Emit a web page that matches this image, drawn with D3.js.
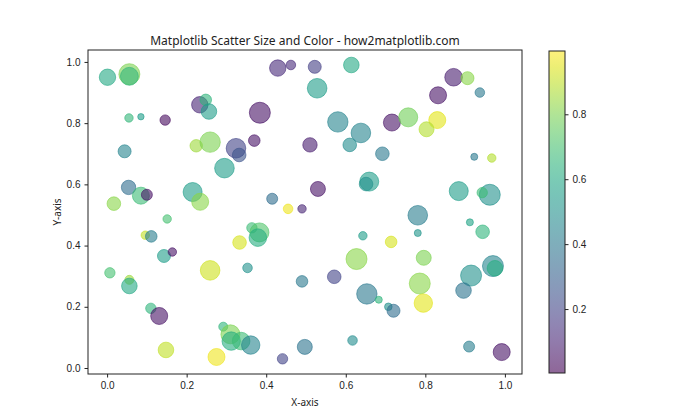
<!DOCTYPE html>
<html>
<head>
<meta charset="utf-8">
<script src="https://cdn.jsdelivr.net/npm/d3@7"></script>
<style>
  body { margin: 0; background: #fff; }
  svg { display: block; font-family: 'Noto Sans', 'Open Sans', sans-serif; }
  .tick text { font-size: 10px; fill: #222; }
  .tick line { stroke: #222; }
</style>
</head>
<body>
<script>
/*
 * Scatter plot where marker size and colour both carry a value,
 * coloured with viridis and a colorbar on the right.
 */

const WIDTH = 700;
const HEIGHT = 420;
const AX_LEFT = 88;
const AX_RIGHT = 522;
const AX_TOP = 50;
const AX_BOT = 374;
const CBAR_LEFT = 549;
const CBAR_RIGHT = 565;
const CBAR_TOP = 51;
const CBAR_BOT = 373;
const ALPHA = 0.6;
const DPI = 70;

// data
const xValues = [
  0.001, 0.056, 0.056, 0.055, 0.085, 0.146, 0.233, 0.248, 0.256, 0.044,
  0.224, 0.259, 0.295, 0.054, 0.085, 0.100, 0.017, 0.215, 0.234, 0.151,
  0.429, 0.462, 0.522, 0.614, 0.528, 0.384, 0.580, 0.638, 0.610, 0.370,
  0.510, 0.324, 0.332, 0.692, 0.659, 0.651, 0.530, 0.415, 0.455, 0.490,
  0.871, 0.906, 0.937, 0.832, 0.716, 0.757, 0.830, 0.803, 0.923, 0.967,
  0.884, 0.962, 0.943, 0.781, 0.096, 0.111, 0.333, 0.143, 0.164, 0.259,
  0.007, 0.056, 0.056, 0.110, 0.131, 0.148, 0.275, 0.292, 0.310, 0.312,
  0.364, 0.383, 0.379, 0.643, 0.627, 0.353, 0.490, 0.571, 0.653, 0.683,
  0.337, 0.361, 0.441, 0.497, 0.617, 0.781, 0.714, 0.796, 0.912, 0.944,
  0.786, 0.795, 0.915, 0.896, 0.970, 0.975, 0.707, 0.720, 0.910, 0.992
];
const yValues = [
  0.950, 0.960, 0.953, 0.817, 0.821, 0.810, 0.860, 0.876, 0.838, 0.708,
  0.726, 0.738, 0.653, 0.590, 0.563, 0.566, 0.537, 0.575, 0.543, 0.487,
  0.980, 0.990, 0.984, 0.990, 0.914, 0.834, 0.804, 0.768, 0.729, 0.743,
  0.729, 0.718, 0.696, 0.700, 0.609, 0.601, 0.585, 0.553, 0.520, 0.520,
  0.950, 0.947, 0.900, 0.891, 0.802, 0.819, 0.810, 0.780, 0.690, 0.686,
  0.578, 0.566, 0.573, 0.499, 0.434, 0.430, 0.410, 0.366, 0.379, 0.319,
  0.311, 0.288, 0.268, 0.195, 0.170, 0.059, 0.036, 0.135, 0.110, 0.088,
  0.458, 0.443, 0.426, 0.432, 0.356, 0.327, 0.283, 0.298, 0.242, 0.223,
  0.088, 0.075, 0.030, 0.069, 0.090, 0.441, 0.412, 0.360, 0.476, 0.445,
  0.276, 0.212, 0.302, 0.253, 0.333, 0.326, 0.200, 0.187, 0.070, 0.052
];
const colorValues = [
  0.60, 0.80, 0.66, 0.66, 0.55, 0.03, 0.10, 0.65, 0.55, 0.45,
  0.85, 0.80, 0.55, 0.35, 0.68, 0.05, 0.82, 0.55, 0.82, 0.70,
  0.12, 0.12, 0.18, 0.60, 0.55, 0.05, 0.45, 0.45, 0.48, 0.05,
  0.08, 0.20, 0.25, 0.40, 0.55, 0.50, 0.05, 0.35, 0.97, 0.10,
  0.08, 0.82, 0.40, 0.05, 0.05, 0.78, 0.95, 0.88, 0.40, 0.88,
  0.55, 0.50, 0.68, 0.42, 0.90, 0.42, 0.93, 0.55, 0.05, 0.92,
  0.70, 0.85, 0.60, 0.65, 0.05, 0.90, 0.97, 0.65, 0.80, 0.62,
  0.68, 0.72, 0.62, 0.55, 0.82, 0.50, 0.40, 0.20, 0.40, 0.65,
  0.68, 0.45, 0.20, 0.38, 0.48, 0.52, 0.93, 0.80, 0.58, 0.65,
  0.82, 0.95, 0.50, 0.38, 0.45, 0.62, 0.50, 0.35, 0.42, 0.05
];
// marker sizes in points^2, as matplotlib's s
const sizeValues = [
  284, 466, 340, 75, 43, 114, 284, 142, 257, 179,
  163, 440, 406, 219, 306, 128, 196, 382, 306, 75,
  284, 97, 179, 257, 406, 466, 440, 406, 196, 142,
  219, 406, 196, 196, 382, 196, 238, 128, 97, 75,
  328, 179, 97, 306, 306, 382, 306, 238, 52, 75,
  382, 466, 114, 406, 75, 142, 196, 179, 75, 406,
  114, 86, 257, 114, 306, 257, 306, 86, 382, 358,
  114, 382, 328, 75, 466, 97, 142, 196, 440, 52,
  328, 358, 114, 238, 97, 52, 142, 238, 52, 196,
  466, 358, 466, 257, 466, 257, 61, 179, 128, 306
];

const xTicks = [0.0, 0.2, 0.4, 0.6, 0.8, 1.0];
const yTicks = [0.0, 0.2, 0.4, 0.6, 0.8, 1.0];
const cTicks = [0.2, 0.4, 0.6, 0.8];
const COLOR_MIN = 0.003;
const COLOR_MAX = 0.995;

const TITLE = 'Matplotlib Scatter Size and Color - how2matplotlib.com';

const svg = d3.select('body')
  .append('svg')
    .attr('width', WIDTH)
    .attr('height', HEIGHT);

const xScale = d3.scaleLinear()
    .domain([-0.048, 1.043])
    .range([AX_LEFT, AX_RIGHT]);

const yScale = d3.scaleLinear()
    .domain([-0.0196, 1.039])
    .range([AX_BOT, AX_TOP]);

const colorScale = d3.scaleSequential(d3.interpolateViridis)
    .domain([COLOR_MIN, COLOR_MAX]);

// s is area in points^2 -> radius in pixels
const radius = s => Math.sqrt(s) / 2 * DPI / 72;

const points = xValues.map((x, i) => ({
  x, y: yValues[i], c: colorValues[i], s: sizeValues[i]
}));

// clip markers to the axes box
svg.append('clipPath')
    .attr('id', 'ax-clip')
  .append('rect')
    .attr('x', AX_LEFT)
    .attr('y', AX_TOP)
    .attr('width', AX_RIGHT - AX_LEFT)
    .attr('height', AX_BOT - AX_TOP);

svg.append('g')
    .attr('clip-path', 'url(#ax-clip)')
  .selectAll('circle')
  .data(points)
  .enter()
  .append('circle')
    .attr('cx', d => xScale(d.x))
    .attr('cy', d => yScale(d.y))
    .attr('r', d => radius(d.s))
    .attr('fill', d => colorScale(d.c))
    .attr('fill-opacity', ALPHA)
    .attr('stroke', d => colorScale(d.c))
    .attr('stroke-opacity', ALPHA)
    .attr('stroke-width', 1);

// axes
svg.append('g')
    .attr('transform', `translate(0, ${AX_BOT})`)
    .call(d3.axisBottom(xScale)
      .tickValues(xTicks)
      .tickFormat(d3.format('.1f'))
      .tickSize(3.5)
      .tickPadding(4))
    .call(g => g.select('.domain').remove());

svg.append('g')
    .attr('transform', `translate(${AX_LEFT}, 0)`)
    .call(d3.axisLeft(yScale)
      .tickValues(yTicks)
      .tickFormat(d3.format('.1f'))
      .tickSize(3.5)
      .tickPadding(4))
    .call(g => g.select('.domain').remove());

svg.append('rect')
    .attr('x', AX_LEFT)
    .attr('y', AX_TOP)
    .attr('width', AX_RIGHT - AX_LEFT)
    .attr('height', AX_BOT - AX_TOP)
    .attr('fill', 'none')
    .attr('stroke', '#222')
    .attr('stroke-width', 1);

// labels and title
svg.append('text')
    .attr('x', (AX_LEFT + AX_RIGHT) / 2)
    .attr('y', 406)
    .attr('text-anchor', 'middle')
    .attr('font-size', 10)
    .attr('fill', '#222')
    .text('X-axis');

svg.append('text')
    .attr('transform', `translate(61, ${(AX_TOP + AX_BOT) / 2}) rotate(-90)`)
    .attr('text-anchor', 'middle')
    .attr('font-size', 10)
    .attr('fill', '#222')
    .text('Y-axis');

svg.append('text')
    .attr('x', (AX_LEFT + AX_RIGHT) / 2)
    .attr('y', 45)
    .attr('text-anchor', 'middle')
    .attr('font-size', 12)
    .attr('fill', '#222')
    .text(TITLE);

// colorbar
const cScale = d3.scaleLinear()
    .domain([COLOR_MIN, COLOR_MAX])
    .range([CBAR_BOT, CBAR_TOP]);

const grad = svg.append('defs')
  .append('linearGradient')
    .attr('id', 'cbar-grad')
    .attr('x1', 0).attr('y1', 1)
    .attr('x2', 0).attr('y2', 0);

d3.range(0, 1.0001, 0.05).forEach(t => {
  grad.append('stop')
      .attr('offset', t)
      .attr('stop-color', d3.interpolateViridis(t));
});

svg.append('rect')
    .attr('x', CBAR_LEFT)
    .attr('y', CBAR_TOP)
    .attr('width', CBAR_RIGHT - CBAR_LEFT)
    .attr('height', CBAR_BOT - CBAR_TOP)
    .attr('fill', 'url(#cbar-grad)')
    .attr('fill-opacity', ALPHA);

svg.append('g')
    .attr('transform', `translate(${CBAR_RIGHT}, 0)`)
    .call(d3.axisRight(cScale)
      .tickValues(cTicks)
      .tickFormat(d3.format('.1f'))
      .tickSize(3.5)
      .tickPadding(4))
    .call(g => g.select('.domain').remove());

svg.append('rect')
    .attr('x', CBAR_LEFT)
    .attr('y', CBAR_TOP)
    .attr('width', CBAR_RIGHT - CBAR_LEFT)
    .attr('height', CBAR_BOT - CBAR_TOP)
    .attr('fill', 'none')
    .attr('stroke', '#222')
    .attr('stroke-width', 1);
</script>
</body>
</html>
